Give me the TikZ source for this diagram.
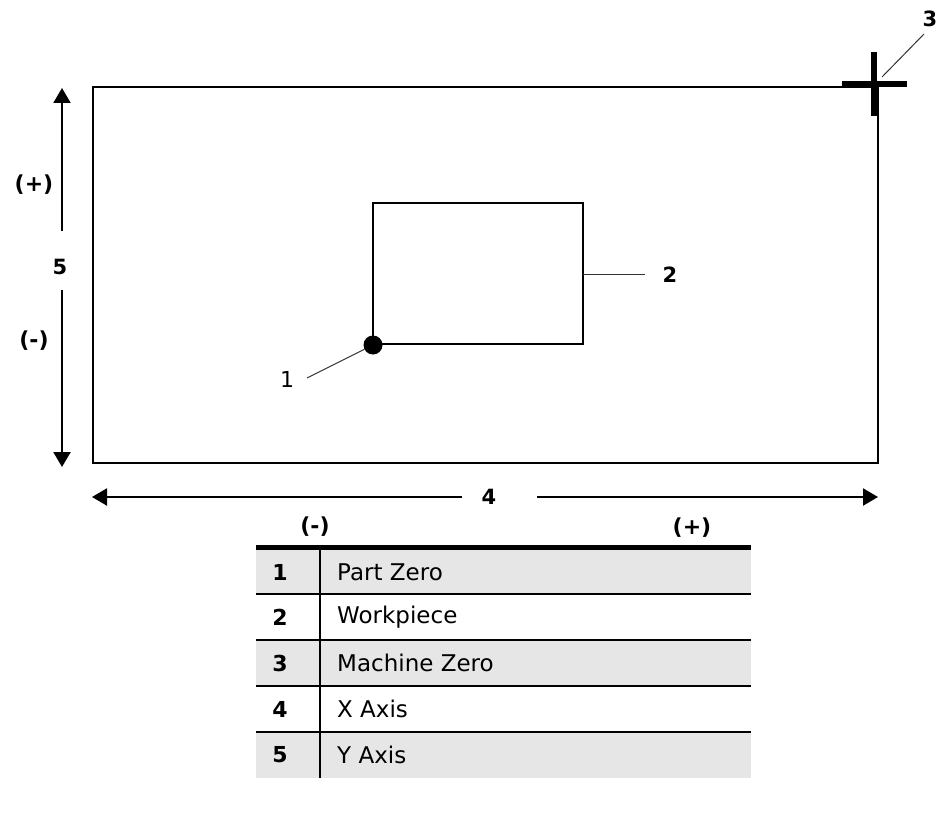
\documentclass[tikz,border=0pt]{standalone}
\usepackage{fontspec}
\setmainfont{DejaVu Sans}
\usetikzlibrary{arrows.meta}
\definecolor{rowgray}{HTML}{E6E6E6}
\tikzset{
  lbl/.style={font=\fontsize{22}{26}\selectfont\bfseries, inner sep=0pt},
  numlbl/.style={font=\fontsize{21}{25}\selectfont\bfseries, inner sep=0pt},
  celltext/.style={font=\fontsize{23}{27}\selectfont, inner sep=0pt, anchor=west},
  cellnum/.style={font=\fontsize{22}{26}\selectfont\bfseries, inner sep=0pt},
  axisarrow/.style={line width=2.2pt, -{Triangle[length=15pt,width=17pt]}},
  leader/.style={line width=1pt, draw=black!80},
  rowline/.style={line width=2pt},
}
\begin{document}
\begin{tikzpicture}[x=1pt,y=-1pt]
\useasboundingbox (0,0) rectangle (938,816);
% outer plate
\draw[line width=2.4pt] (93,87) rectangle (878,463);
% machine zero cross
\draw[line width=6pt] (842,84) -- (907,84);
\draw[line width=6pt] (874,52) -- (874,116);
\coordinate (mz) at (882,77);
\node[numlbl] (n3) at (930,19) {3};
\coordinate (l3) at (924,34);
\draw[leader] (l3) -- (mz);
% workpiece
\draw[line width=1.2pt] (373,203) rectangle (583,344);
\node[circle, fill=black, inner sep=0pt, minimum size=19pt] (pz) at (373,345) {};
\node[numlbl, font=\fontsize{22}{26}\selectfont] (n1) at (287,379) {1};
\coordinate (l1) at (307,378);
\draw[leader] (l1) -- (pz);
\coordinate (wp) at (583,274);
\coordinate (l2) at (645,274);
\draw[leader] (wp) -- (l2);
\node[numlbl] (n2) at (670,275) {2};
% Y axis
\coordinate (ya) at (62,231);
\coordinate (yt) at (62,88);
\coordinate (yb) at (62,290);
\coordinate (ye) at (62,467);
\draw[axisarrow] (ya) -- (yt);
\draw[axisarrow] (yb) -- (ye);
\node[lbl] (yp) at (34,185) {(+)};
\node[numlbl] (n5) at (60,267) {5};
\node[lbl] (ym) at (34,341) {(-)};
% X axis
\coordinate (xa) at (462,497);
\coordinate (xt) at (92,497);
\coordinate (xb) at (537,497);
\coordinate (xe) at (878,497);
\draw[axisarrow] (xa) -- (xt);
\draw[axisarrow] (xb) -- (xe);
\node[numlbl] (n4) at (489,497) {4};
\node[lbl] (xm) at (315,527) {(-)};
\node[lbl] (xp) at (692,528) {(+)};
% legend table
\fill[rowgray] (256,550) rectangle (751,594);
\fill[rowgray] (256,640) rectangle (751,686);
\fill[rowgray] (256,732) rectangle (751,778);
\draw[line width=5pt] (256,547.5) -- (751,547.5);
\draw[rowline] (256,594) -- (751,594);
\draw[rowline] (256,640) -- (751,640);
\draw[rowline] (256,686) -- (751,686);
\draw[rowline] (256,732) -- (751,732);
\draw[rowline] (320,550) -- (320,778);
\node[cellnum] (t1) at (280,572) {1};
\node[celltext] (d1) at (337,572) {Part Zero};
\node[cellnum] (t2) at (280,617) {2};
\node[celltext] (d2) at (337,617) {Workpiece};
\node[cellnum] (t3) at (280,663) {3};
\node[celltext] (d3) at (337,663) {Machine Zero};
\node[cellnum] (t4) at (280,709) {4};
\node[celltext] (d4) at (337,709) {X Axis};
\node[cellnum] (t5) at (280,755) {5};
\node[celltext] (d5) at (337,755) {Y Axis};
\end{tikzpicture}
\end{document}
